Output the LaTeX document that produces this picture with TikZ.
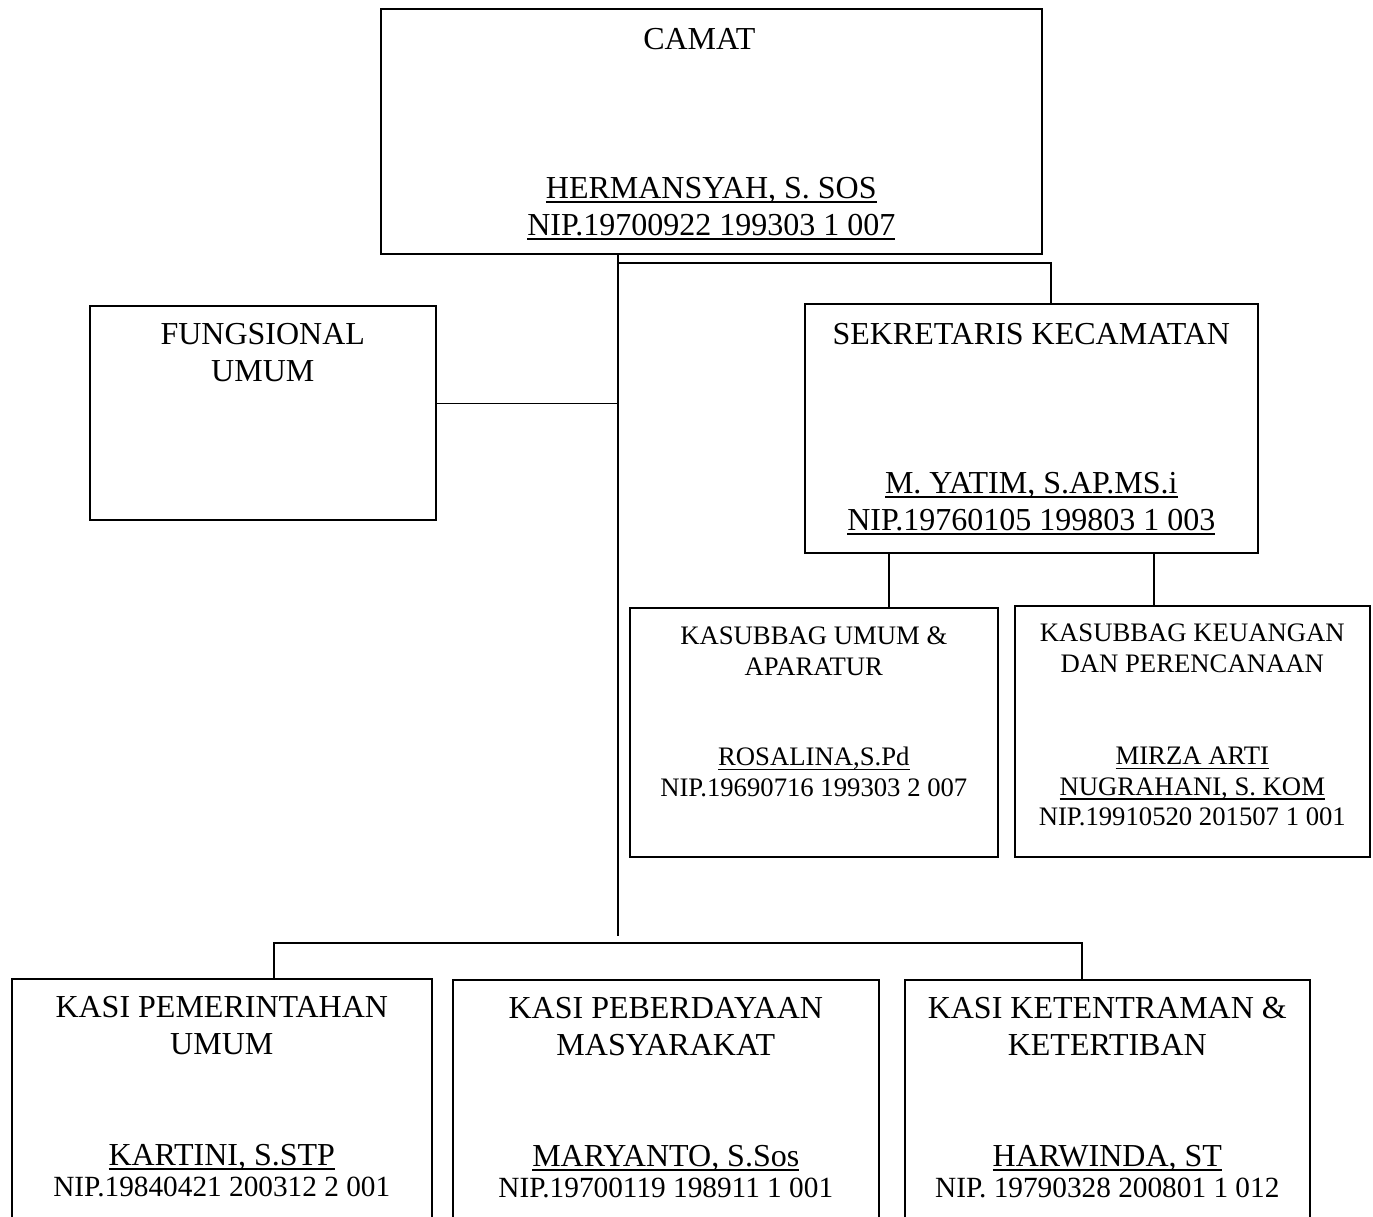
\documentclass[tikz,border=0pt]{standalone}
\usepackage{fontspec}
\setmainfont{Liberation Serif}
\usetikzlibrary{positioning}

\newsavebox{\ulinebox}
\newcommand{\uln}[1]{\sbox{\ulinebox}{#1}\rlap{\rule[-4.4pt]{\wd\ulinebox}{1.4pt}}\usebox{\ulinebox}}

\begin{document}
\begin{tikzpicture}[x=1pt,y=-1pt,
    orgbox/.style={draw,line width=1.6pt,inner sep=0pt,anchor=north west},
    link/.style={line width=1.3pt},
    bigtxt/.style={font=\fontsize{32}{37}\selectfont,align=center,inner sep=0pt},
    midtxt/.style={font=\fontsize{29.3}{34}\selectfont,align=center,inner sep=0pt},
    smalltxt/.style={font=\fontsize{26.7}{30.5}\selectfont,align=center,inner sep=0pt}]
  \useasboundingbox (0,0) rectangle (1373,1217);
  \clip (0,0) rectangle (1373,1217);

  % boxes
  \node[orgbox,minimum width=661pt,minimum height=245pt] (camat) at (380,8) {};
  \node[orgbox,minimum width=346pt,minimum height=214pt] (fungsi) at (89,305) {};
  \node[orgbox,minimum width=453pt,minimum height=249pt] (sekcam) at (804,303) {};
  \node[orgbox,minimum width=368pt,minimum height=249pt] (umum) at (629,607) {};
  \node[orgbox,minimum width=355pt,minimum height=251pt] (uang) at (1014,605) {};
  \node[orgbox,minimum width=420pt,minimum height=300pt] (pem) at (11,978) {};
  \node[orgbox,minimum width=426pt,minimum height=300pt] (peb) at (452,979) {};
  \node[orgbox,minimum width=405pt,minimum height=300pt] (ket) at (904,979) {};

  % texts
  \node[bigtxt,below=20pt of camat.north,xshift=-12pt] (camat-t) {CAMAT};
  \node[bigtxt,below=169pt of camat.north] (camat-n) {\uln{HERMANSYAH, S. SOS}\\\uln{NIP.19700922 199303 1 007}};
  \node[bigtxt,below=18pt of fungsi.north] (fungsi-t) {FUNGSIONAL\\UMUM};
  \node[bigtxt,below=20pt of sekcam.north] (sekcam-t) {SEKRETARIS KECAMATAN};
  \node[bigtxt,below=169pt of sekcam.north] (sekcam-n) {\uln{M. YATIM, S.AP.MS.i}\\\uln{NIP.19760105 199803 1 003}};
  \node[smalltxt,below=20pt of umum.north] (umum-t) {KASUBBAG UMUM \&\\APARATUR};
  \node[smalltxt,below=140pt of umum.north] (umum-n) {\uln{ROSALINA,S.Pd}\\NIP.19690716 199303 2 007};
  \node[smalltxt,below=19pt of uang.north] (uang-t) {KASUBBAG KEUANGAN\\DAN PERENCANAAN};
  \node[smalltxt,below=142pt of uang.north] (uang-n) {\uln{MIRZA ARTI}\\\uln{NUGRAHANI, S. KOM}\\NIP.19910520 201507 1 001};
  \node[bigtxt,below=18pt of pem.north] (pem-t) {KASI PEMERINTAHAN\\UMUM};
  \node[bigtxt,below=166pt of pem.north] (pem-n) {\uln{KARTINI, S.STP}};
  \node[midtxt,below=199pt of pem.north] (pem-nip) {NIP.19840421 200312 2 001};
  \node[bigtxt,below=18pt of peb.north] (peb-t) {KASI PEBERDAYAAN\\MASYARAKAT};
  \node[bigtxt,below=166pt of peb.north] (peb-n) {\uln{MARYANTO, S.Sos}};
  \node[midtxt,below=199pt of peb.north] (peb-nip) {NIP.19700119 198911 1 001};
  \node[bigtxt,below=18pt of ket.north] (ket-t) {KASI KETENTRAMAN \&\\KETERTIBAN};
  \node[bigtxt,below=166pt of ket.north] (ket-n) {\uln{HARWINDA, ST}};
  \node[midtxt,below=199pt of ket.north] (ket-nip) {NIP. 19790328 200801 1 012};

  % connectors
  \coordinate (spinetop) at ([xshift=238pt]camat.south west);
  \coordinate (spinebot) at (618,936);
  \coordinate (sekjoin) at (1051,263);
  \coordinate (barL) at (274,943);
  \coordinate (barR) at (1082,943);
  \draw[link] (spinetop) -- (spinebot);
  \draw[link] (spinetop |- sekjoin) -- (sekjoin) -- (sekjoin |- sekcam.north);
  \draw[link] ([yshift=9pt]fungsi.east) -- ([yshift=9pt]fungsi.east -| spinetop);
  \draw[link] ([xshift=85pt]sekcam.south west) -- ([xshift=85pt]sekcam.south west |- umum.north);
  \draw[link] ([xshift=350pt]sekcam.south west) -- ([xshift=350pt]sekcam.south west |- uang.north);
  \draw[link] (barL |- pem.north) -- (barL) -- (barR) -- (barR |- ket.north);
\end{tikzpicture}
\end{document}
